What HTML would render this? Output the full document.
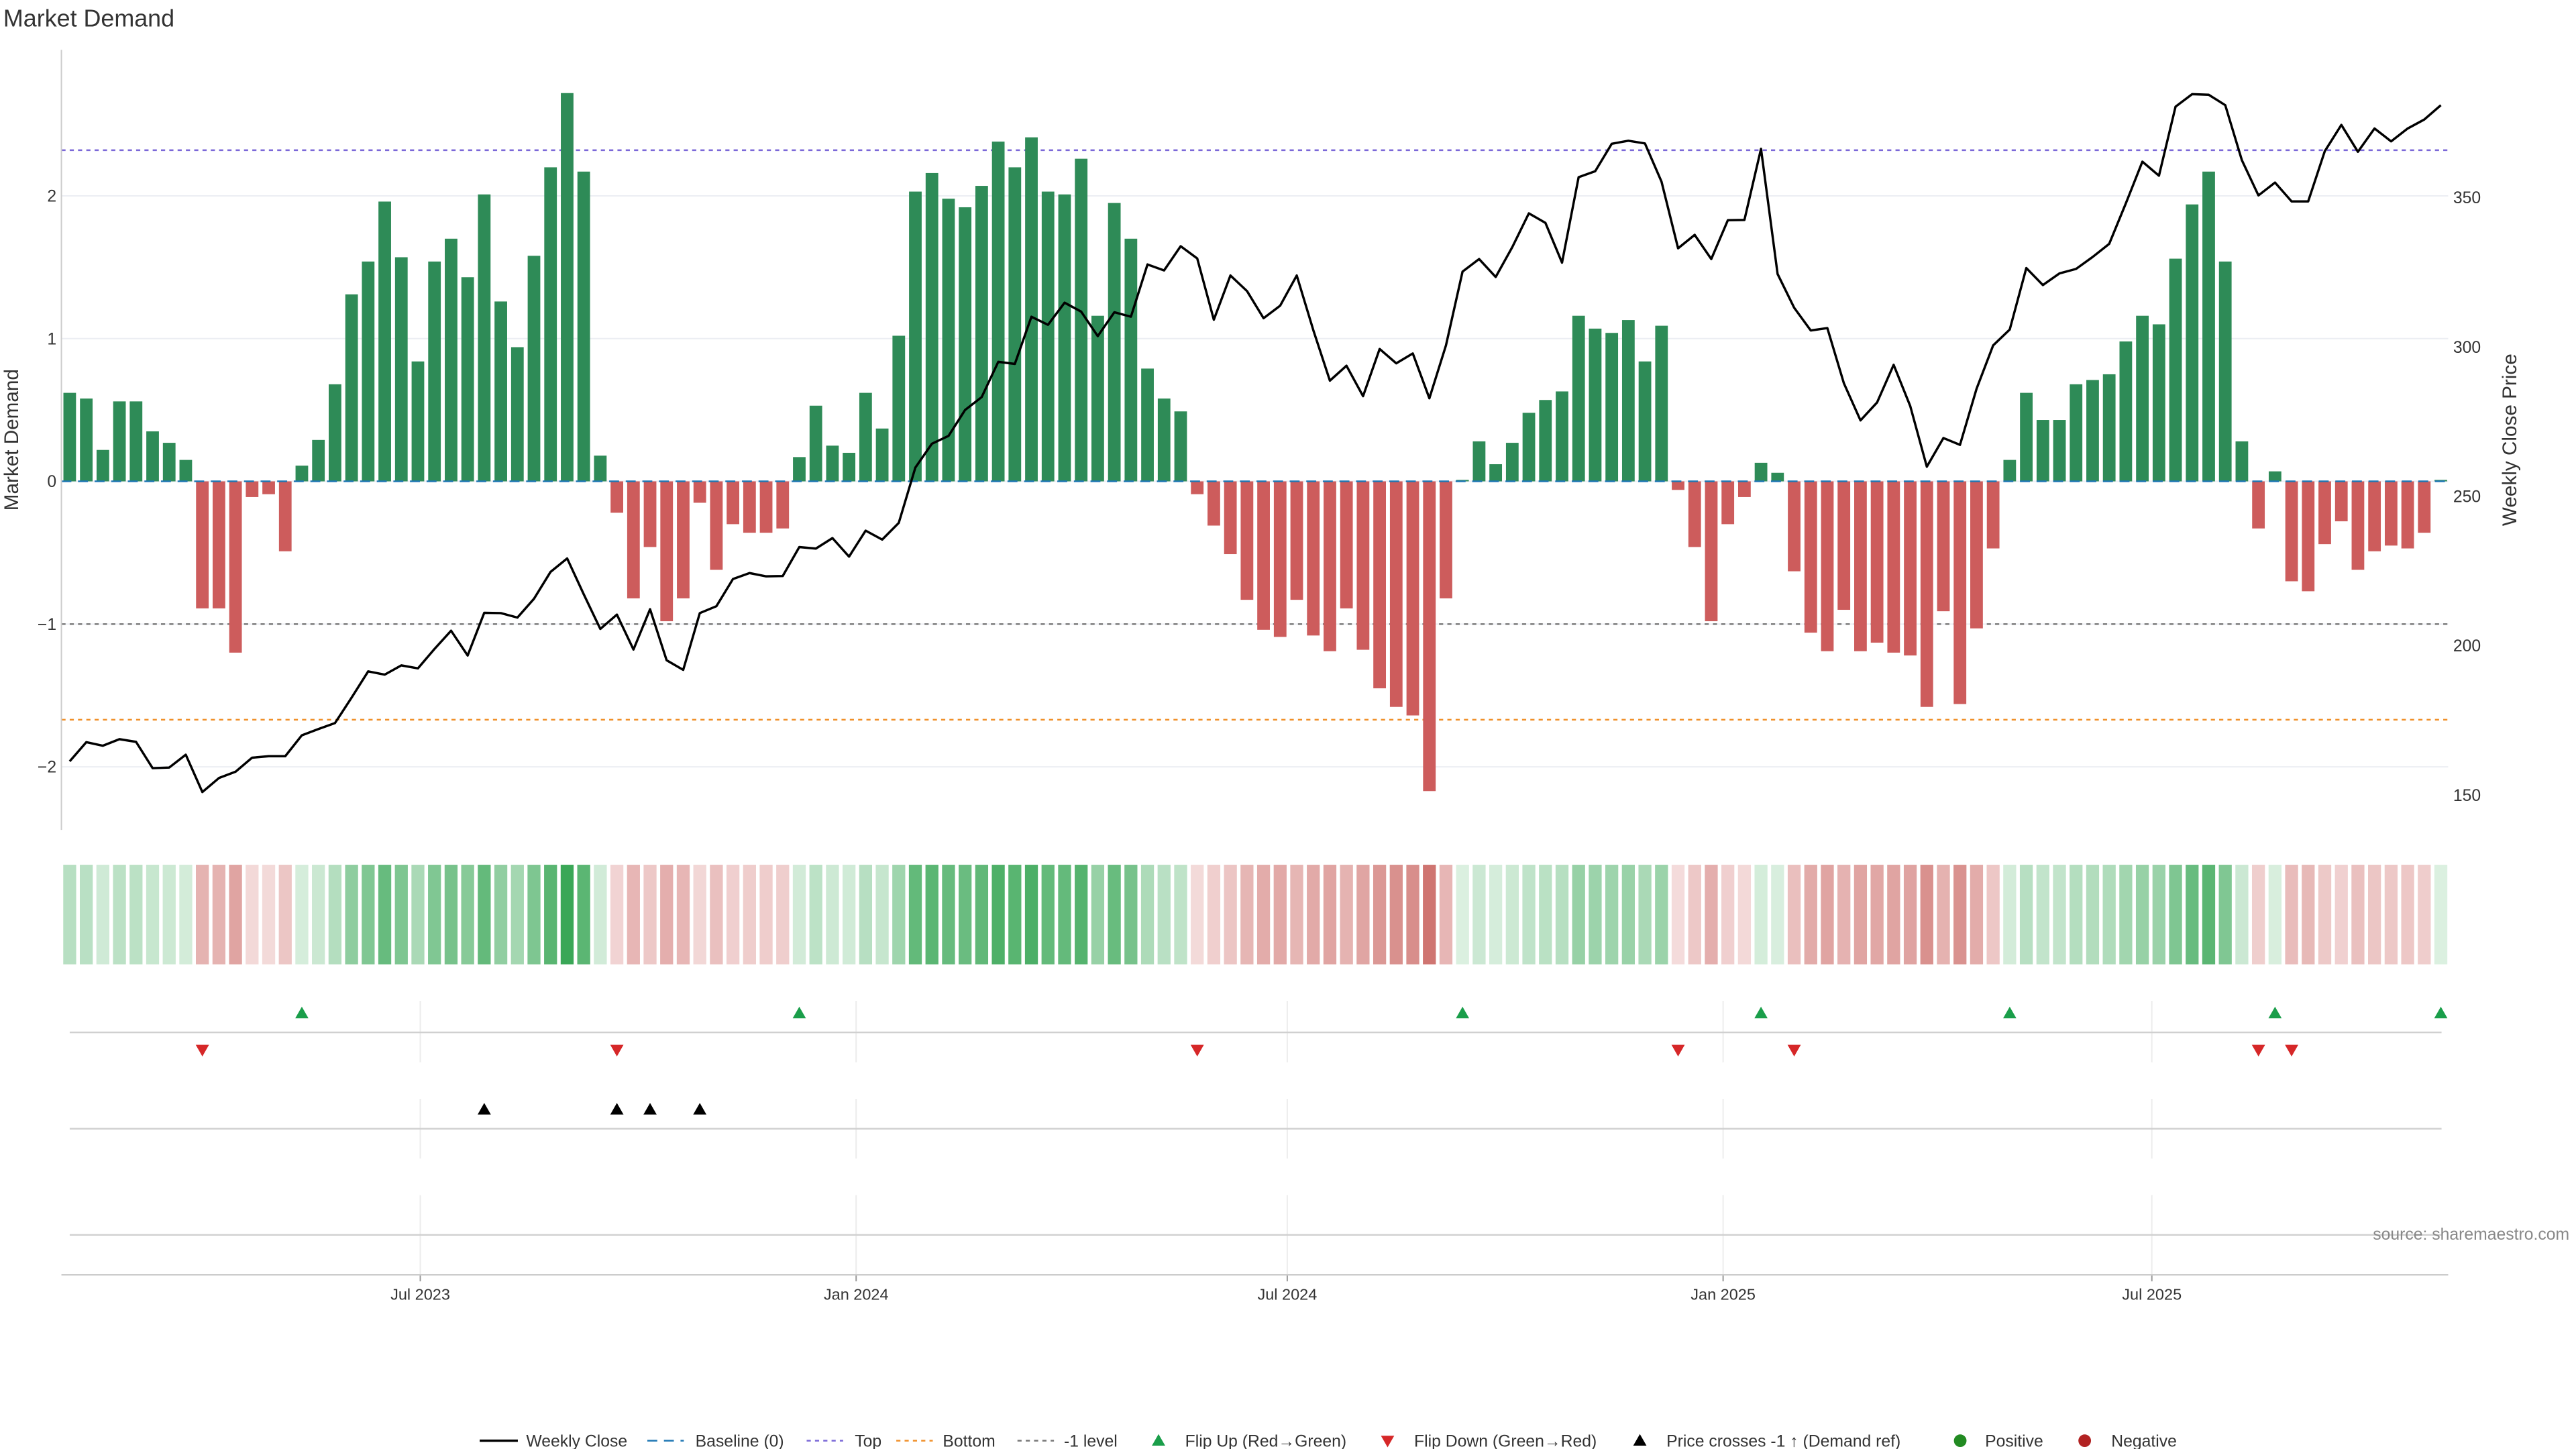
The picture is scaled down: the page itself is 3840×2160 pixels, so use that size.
<!DOCTYPE html>
<html><head><meta charset="utf-8"><title>Market Demand</title>
<style>
html,body{margin:0;padding:0;background:#fff;}
svg{display:block;font-family:"Liberation Sans","DejaVu Sans",sans-serif;}
</style></head>
<body>
<svg id="chart" width="3840" height="2160" viewBox="0 0 1552 873" preserveAspectRatio="none" xmlns="http://www.w3.org/2000/svg">
<rect x="0" y="0" width="1552" height="873" fill="#fff"/>
<text x="2" y="16" font-size="14.5" fill="#333">Market Demand</text>
<g id="grid"></g><g id="refs"></g><g id="bars"></g><g id="base"></g><g id="line"></g><g id="axes"></g><g id="heat"></g><g id="markers"></g><g id="legend"></g>
</svg>
<script>
const demand = [0.62,0.58,0.22,0.56,0.56,0.35,0.27,0.15,-0.89,-0.89,-1.20,-0.11,-0.09,-0.49,0.11,0.29,0.68,1.31,1.54,1.96,1.57,0.84,1.54,1.70,1.43,2.01,1.26,0.94,1.58,2.20,2.72,2.17,0.18,-0.22,-0.82,-0.46,-0.98,-0.82,-0.15,-0.62,-0.30,-0.36,-0.36,-0.33,0.17,0.53,0.25,0.20,0.62,0.37,1.02,2.03,2.16,1.98,1.92,2.07,2.38,2.20,2.41,2.03,2.01,2.26,1.16,1.95,1.70,0.79,0.58,0.49,-0.09,-0.31,-0.51,-0.83,-1.04,-1.09,-0.83,-1.08,-1.19,-0.89,-1.18,-1.45,-1.58,-1.64,-2.17,-0.82,0.01,0.28,0.12,0.27,0.48,0.57,0.63,1.16,1.07,1.04,1.13,0.84,1.09,-0.06,-0.46,-0.98,-0.30,-0.11,0.13,0.06,-0.63,-1.06,-1.19,-0.90,-1.19,-1.13,-1.20,-1.22,-1.58,-0.91,-1.56,-1.03,-0.47,0.15,0.62,0.43,0.43,0.68,0.71,0.75,0.98,1.16,1.10,1.56,1.94,2.17,1.54,0.28,-0.33,0.07,-0.70,-0.77,-0.44,-0.28,-0.62,-0.49,-0.45,-0.47,-0.36,0.01];
const closes = [161.3,167.7,166.5,168.7,167.8,159.0,159.2,163.5,151.0,155.7,157.8,162.5,163.0,163.0,170.0,172.1,174.1,182.6,191.4,190.3,193.4,192.4,198.9,205.0,196.7,211.0,210.9,209.4,215.7,224.7,229.2,217.2,205.6,210.4,198.7,212.2,195.1,191.9,210.9,213.2,222.3,224.3,223.2,223.3,233.0,232.5,236.0,229.8,238.5,235.5,241.1,259.6,267.6,270.2,278.9,283.2,295.0,294.3,310.1,307.4,314.8,311.8,303.6,311.6,310.1,327.6,325.6,333.7,329.6,309.1,323.9,318.7,309.6,313.8,323.9,305.6,288.7,293.7,283.5,299.3,294.5,297.8,282.8,300.5,325.2,329.4,323.4,333.4,344.7,341.5,328.2,356.8,358.8,368.0,369.0,368.1,355.3,333.0,337.5,329.4,342.4,342.5,366.3,324.4,313.1,305.5,306.3,287.8,275.4,281.4,294.0,280.2,259.9,269.5,267.2,286.0,300.5,305.8,326.4,320.7,324.6,326.1,330.1,334.5,348.0,362.0,357.3,380.4,384.6,384.4,380.9,362.5,350.7,355.0,348.7,348.7,365.5,374.3,365.3,373.1,368.8,373.1,376.1,380.9];
const leftTicks = [2,1,0,-1,-2];
const rightTicks = [350,300,250,200,150];
const dateTicks = ["2023-07-01","2024-01-01","2024-07-01","2025-01-01","2025-07-01"];
const dateLabels = ["Jul 2023","Jan 2024","Jul 2024","Jan 2025","Jul 2025"];
const refLevels = [2.32,-1.67,-1];
const startDate = "2023-02-03";

const NS="http://www.w3.org/2000/svg";
function mk(tag,attrs,parent){const e=document.createElementNS(NS,tag);for(const k in attrs)e.setAttribute(k,attrs[k]);parent.appendChild(e);return e;}
const G=id=>document.getElementById(id);
const step=9.99, x0=42;
const xi=i=>x0+i*step;
const xd=s=>x0+((Date.parse(s)-Date.parse(startDate))/86400000)/7*step;
const yL=v=>290-86*v;
const yR=p=>299-1.8*(p-250);
const PL=37, PR=1475;

// grid
leftTicks.forEach(t=>{
  const l=mk('line',{x1:PL,x2:PR,y1:yL(t),y2:yL(t),stroke:'#eceef3','stroke-width':0.8},G('grid'));
  
  
  const tx=mk('text',{x:34,y:yL(t)+3.5,'font-size':10,fill:'#333','text-anchor':'end'},G('axes'));
  tx.textContent=t<0?'\u2212'+Math.abs(t):String(t);
  
  
});
rightTicks.forEach(t=>{
  const tx=mk('text',{x:1478,y:yR(t)+3.5,'font-size':10,fill:'#333'},G('axes'));
  tx.textContent=String(t);
  
  
});
mk('line',{x1:PL,x2:PL,y1:30,y2:500,stroke:'#ccc','stroke-width':0.8},G('axes'));
let t1=mk('text',{x:0,y:0,'font-size':12,fill:'#333','text-anchor':'middle',transform:'translate(11,265) rotate(-90)'},G('axes'));
t1.textContent='Market Demand';


let t2=mk('text',{x:0,y:0,'font-size':12,fill:'#333','text-anchor':'middle',transform:'translate(1516,265) rotate(-90)'},G('axes'));
t2.textContent='Weekly Close Price';



// reference lines
const refColors=['#7b68d8','#f0902a','#777'];
refLevels.forEach((v,k)=>{
  const l=mk('line',{x1:PL,x2:PR,y1:yL(v),y2:yL(v),stroke:refColors[k],'stroke-width':1,'stroke-dasharray':'2.5,2.5'},G('refs'));
  
  
});

// bars
demand.forEach((v,i)=>{
  const y=Math.min(yL(v),yL(0)), h=Math.abs(yL(v)-yL(0));
  const r=mk('rect',{x:xi(i)-3.8,y:y,width:7.6,height:Math.max(h,0.01),fill:v>=0?'#2e8b57':'#cd5c5c'},G('bars'));
  
  
});
const bl=mk('line',{x1:PL,x2:PR,y1:yL(0),y2:yL(0),stroke:'#1f77b4','stroke-width':1,'stroke-dasharray':'6,4'},G('base'));



// price line
const pts=closes.map((p,i)=>xi(i).toFixed(2)+','+yR(p).toFixed(2)).join(' ');
const pl=mk('polyline',{points:pts,fill:'none',stroke:'#000','stroke-width':1.4,'stroke-linejoin':'round'},G('line'));



// heatmap strip
const maxAbs=Math.max(...demand.map(Math.abs));
function mix(a,b,t){return 'rgb('+a.map((c,k)=>Math.round(c+(b[k]-c)*t)).join(',')+')';}
demand.forEach((v,i)=>{
  const t=Math.min(1,Math.abs(v)/maxAbs);
  const col=v>=0?mix([220,240,225],[58,167,87],t):mix([245,222,222],[197,90,85],t);
  const r=mk('rect',{x:xi(i)-3.9,y:521,width:7.8,height:60,fill:col},G('heat'));
  
  
});

// lower panels
dateTicks.forEach((d,k)=>{
  const x=xd(d);
  [[603,640],[662,698],[720,768]].forEach(s=>{mk('line',{x1:x,x2:x,y1:s[0],y2:s[1],stroke:'#ececec','stroke-width':0.8},G('grid'));});
  mk('line',{x1:x,x2:x,y1:768,y2:772,stroke:'#999','stroke-width':0.8},G('axes'));
  const tx=mk('text',{x:x,y:783,'font-size':9.5,fill:'#333','text-anchor':'middle'},G('axes'));
  tx.textContent=dateLabels[k];
  
  
});
[622,680,744].forEach(y=>mk('line',{x1:42,x2:1471,y1:y,y2:y,stroke:'#d0d0d0','stroke-width':1},G('grid')));
mk('line',{x1:PL,x2:PR,y1:768,y2:768,stroke:'#ccc','stroke-width':1},G('axes'));

function tri(x,y,up,col,name){
  const d=up?`M${x-4},${y+3.5} L${x+4},${y+3.5} L${x},${y-3.5} Z`:`M${x-4},${y-3.5} L${x+4},${y-3.5} L${x},${y+3.5} Z`;
  const p=mk('path',{d:d,fill:col},G('markers'));
  
  
}
const thrPrice=250+(yR(250)-yL(-1))/1.8;
for(let i=1;i<demand.length;i++){
  if(demand[i-1]<0&&demand[i]>=0)tri(xi(i),610,true,'#1a9e4a','flip-up-marker');
  if(demand[i-1]>=0&&demand[i]<0)tri(xi(i),633,false,'#d62728','flip-down-marker');
  if(closes[i-1]<thrPrice&&closes[i]>=thrPrice)tri(xi(i),668,true,'#000','price-cross-marker');
}
const src=mk('text',{x:1548,y:747,'font-size':10,fill:'#888','text-anchor':'end'},G('legend'));
src.textContent='source: sharemaestro.com';



// legend
const L=G('legend'), ly=868;
function ltext(x,s){const t=mk('text',{x:x,y:ly+3.5,'font-size':10,fill:'#333'},L);t.textContent=s;}
mk('line',{x1:289,x2:312,y1:ly,y2:ly,stroke:'#000','stroke-width':1.4},L); ltext(317,'Weekly Close');
mk('line',{x1:390,x2:412,y1:ly,y2:ly,stroke:'#1f77b4','stroke-width':1,'stroke-dasharray':'6,4'},L); ltext(419,'Baseline (0)');
mk('line',{x1:486,x2:508,y1:ly,y2:ly,stroke:'#7b68d8','stroke-width':1,'stroke-dasharray':'2.5,2.5'},L); ltext(515,'Top');
mk('line',{x1:540,x2:562,y1:ly,y2:ly,stroke:'#f0902a','stroke-width':1,'stroke-dasharray':'2.5,2.5'},L); ltext(568,'Bottom');
mk('line',{x1:613,x2:635,y1:ly,y2:ly,stroke:'#777','stroke-width':1,'stroke-dasharray':'2.5,2.5'},L); ltext(641,'-1 level');
mk('path',{d:`M694,${ly+3} L702,${ly+3} L698,${ly-4} Z`,fill:'#1a9e4a'},L); ltext(714,'Flip Up (Red\u2192Green)');
mk('path',{d:`M832,${ly-3} L840,${ly-3} L836,${ly+4} Z`,fill:'#d62728'},L); ltext(852,'Flip Down (Green\u2192Red)');
mk('path',{d:`M984,${ly+3} L992,${ly+3} L988,${ly-4} Z`,fill:'#000'},L); ltext(1004,'Price crosses -1 \u2191 (Demand ref)');
mk('circle',{cx:1181,cy:ly,r:3.8,fill:'#228b22'},L); ltext(1196,'Positive');
mk('circle',{cx:1256,cy:ly,r:3.8,fill:'#b22222'},L); ltext(1272,'Negative');
</script>
</body></html>
